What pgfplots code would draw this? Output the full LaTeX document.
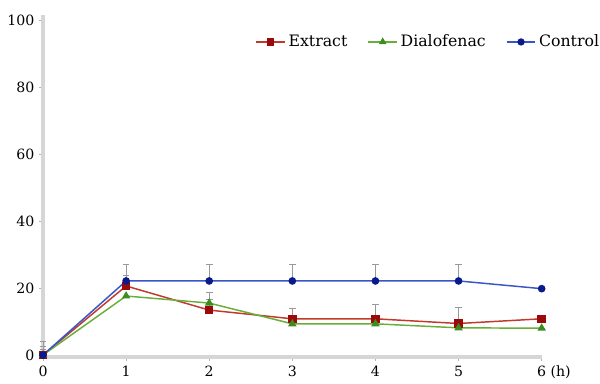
\documentclass[border=0pt]{standalone}
\usepackage{pgfplots}
\pgfplotsset{compat=1.18}
\usepackage{fontspec}
\setmainfont{DejaVu Serif}
\definecolor{exline}{HTML}{C0392B}
\definecolor{exmark}{HTML}{9B0A0A}
\definecolor{dlline}{HTML}{6AAE3A}
\definecolor{dlmark}{HTML}{3C8C1E}
\definecolor{ctline}{HTML}{3A55C8}
\definecolor{ctmark}{HTML}{0A1A8C}
\definecolor{axgray}{HTML}{D6D6D6}
\pgfplotsset{legend image code/.code={\draw[mark repeat=2,mark phase=2,#1] plot coordinates {(0cm,0cm) (0.38cm,0cm) (0.76cm,0cm)};}}
\begin{document}
\begin{tikzpicture}
\useasboundingbox (-32.25pt,-20.25pt) rectangle (417.75pt,267.75pt);
\begin{axis}[
  at={(0,0)}, anchor=south west,
  scale only axis, width=374pt, height=256.5pt,
  xmin=0, xmax=6, ymin=-0.6, ymax=101.5,
  axis x line*=bottom, axis y line*=left,
  axis line style={draw=axgray, line width=2.4pt, -},
  x axis line style={draw=axgray, line width=2.4pt, -},
  y axis line style={draw=axgray, line width=2.4pt, -},
  xtick={0,...,6}, xticklabels={0,1,2,3,4,5,{6\rlap{ (h)}}},
  ytick={0,20,...,100},
  tick style={gray!60, line width=0.6pt},
  tick align=outside, major tick length=3pt,
  /pgf/number format/assume math mode=true,
  tick label style={font=\fontsize{10.6}{13}\selectfont},
  clip=false,
  legend columns=3,
  legend style={draw=none, fill=none, at={(1.129,0.958)}, anchor=north east,
    font=\fontsize{11.8}{13}\selectfont, column sep=0pt,
    /tikz/every even column/.append style={column sep=13pt},
    nodes={inner xsep=2pt}},
  legend cell align=left,
  legend image post style={line width=1.4pt, mark size=2pt},
  error bars/y dir=plus, error bars/y explicit,
  error bars/error bar style={gray!80, line width=0.7pt},
  error bars/error mark options={rotate=90, mark size=2.5pt, gray!80, line width=0.7pt},
]
\addplot[exline, line width=1.1pt, mark=square*, mark size=2.6pt,
  mark options={exmark, fill=exmark}] coordinates {
  (0,0) +- (0,2.5) (1,20.6) +- (0,3) (2,13.4) +- (0,5.4) (3,10.8) +- (0,3.2)
  (4,10.8) +- (0,4.2) (5,9.4) +- (0,4.8) (6,10.8) +- (0,0)};
\addlegendentry{Extract}
\addplot[dlline, line width=1.1pt, mark=triangle*, mark size=2.6pt,
  mark options={dlmark, fill=dlmark}] coordinates {
  (0,0) +- (0,4) (1,17.6) +- (0,0) (2,15.5) +- (0,1) (3,9.3) +- (0,0)
  (4,9.3) +- (0,0) (5,8.1) +- (0,0) (6,8.0) +- (0,0)};
\addlegendentry{Dialofenac}
\addplot[ctline, line width=1.1pt, mark=*, mark size=2.3pt,
  mark options={ctmark, fill=ctmark}] coordinates {
  (0,0) +- (0,1.5) (1,22.1) +- (0,4.8) (2,22.1) +- (0,4.8) (3,22.1) +- (0,4.8)
  (4,22.1) +- (0,4.8) (5,22.1) +- (0,4.8) (6,19.8) +- (0,0)};
\addlegendentry{Control}
\end{axis}
\end{tikzpicture}
\end{document}
